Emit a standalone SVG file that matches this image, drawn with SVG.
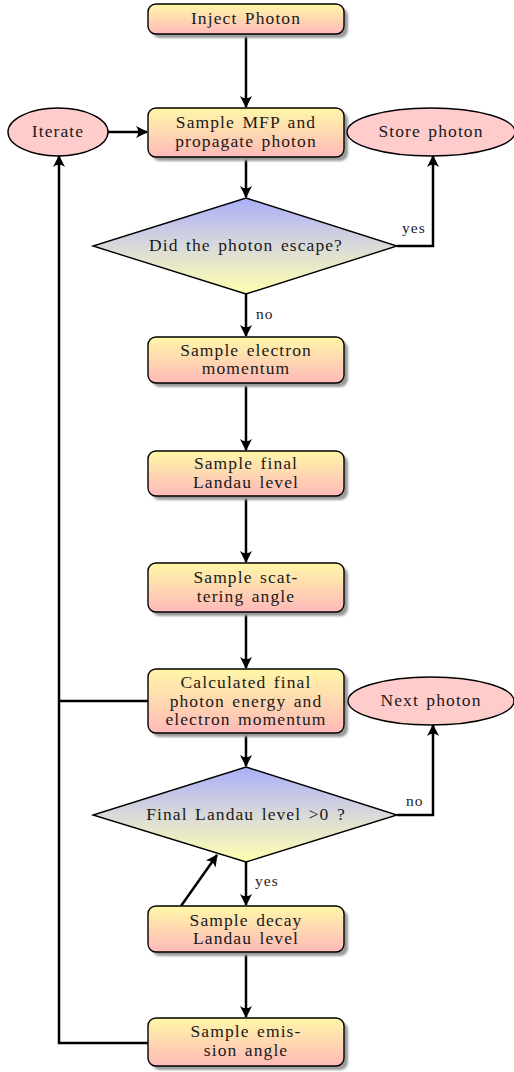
<svg xmlns="http://www.w3.org/2000/svg" width="514" height="1072" viewBox="0 0 514 1072">
<defs>
<linearGradient id="boxg" x1="0" y1="0" x2="0" y2="1">
<stop offset="0" stop-color="#fff7a8"/>
<stop offset="1" stop-color="#ffb9b9"/>
</linearGradient>
<linearGradient id="diag" x1="0" y1="0" x2="0" y2="1">
<stop offset="0" stop-color="#a9aef8"/>
<stop offset="0.5" stop-color="#d9d9d9"/>
<stop offset="1" stop-color="#ffffb0"/>
</linearGradient>
<filter id="blur" x="-10%" y="-20%" width="120%" height="140%">
<feGaussianBlur stdDeviation="1.2"/>
</filter>
<marker id="arr" markerUnits="userSpaceOnUse" markerWidth="16" markerHeight="16" viewBox="-13 -8 16 16" refX="0" refY="0" orient="auto">
<path d="M1,0 L-11,-6 Q-6.5,0 -11,6 z" fill="#000"/>
</marker>
</defs>
<style>
.box{fill:url(#boxg);stroke:#000;stroke-width:1.4}
.sh{fill:#9a9a9a;filter:url(#blur)}
.ell{fill:#ffcccc;stroke:#000;stroke-width:1.4}
.dia{fill:url(#diag);stroke:#000;stroke-width:1.4}
.t{font-family:"Liberation Serif","Times New Roman",serif;font-size:17.5px;letter-spacing:1.1px;word-spacing:2px;text-anchor:middle;fill:#1a1a1a}
.lb{font-family:"Liberation Serif","Times New Roman",serif;font-size:15.5px;letter-spacing:1.1px;fill:#1a1a1a}
.c{fill:none;stroke:#000;stroke-width:2.5}
.a{marker-end:url(#arr)}
</style>

<g id="connectors">
<path class="c a" d="M246,34 V107"/>
<path class="c a" d="M108,132 H147"/>
<path class="c a" d="M246,157 V197"/>
<path class="c a" d="M397,246 H433 V156"/>
<path class="c a" d="M246,294 V336"/>
<path class="c a" d="M246,383 V450"/>
<path class="c a" d="M246,496 V562"/>
<path class="c a" d="M246,612 V668"/>
<path class="c a" d="M246,733 V766"/>
<path class="c a" d="M397,815 H433 V725"/>
<path class="c a" d="M246,862 V905"/>
<path class="c a" d="M181,906 L217,855"/>
<path class="c a" d="M246,952 V1017"/>
<path class="c a" d="M148,1043 H59 V156"/>
<path class="c" d="M148,701 H59"/>
</g>

<g id="inject">
<rect class="sh" x="152" y="8" width="196" height="30" rx="8"/>
<rect class="box" x="148" y="4" width="196" height="30" rx="8"/>
<text class="t" x="246" y="24">Inject Photon</text>
</g>

<g id="iterate">
<ellipse class="ell" cx="58" cy="132" rx="50" ry="24"/>
<text class="t" x="58" y="137">Iterate</text>
</g>

<g id="mfp">
<rect class="sh" x="152" y="112" width="196" height="49" rx="8"/>
<rect class="box" x="148" y="108" width="196" height="49" rx="8"/>
<text class="t" x="246" y="128">Sample MFP and</text>
<text class="t" x="246" y="147">propagate photon</text>
</g>

<g id="store">
<ellipse class="ell" cx="431" cy="132" rx="84" ry="24"/>
<text class="t" x="431" y="137">Store photon</text>
</g>

<g id="escape">
<polygon class="dia" points="246,198 397,246 246,294 93,246"/>
<text class="t" x="246" y="251">Did the photon escape?</text>
</g>

<g id="electron">
<rect class="sh" x="152" y="341" width="196" height="46" rx="8"/>
<rect class="box" x="148" y="337" width="196" height="46" rx="8"/>
<text class="t" x="246" y="356">Sample electron</text>
<text class="t" x="246" y="374">momentum</text>
</g>

<g id="finallevel">
<rect class="sh" x="152" y="455" width="196" height="45" rx="8"/>
<rect class="box" x="148" y="451" width="196" height="45" rx="8"/>
<text class="t" x="246" y="469">Sample final</text>
<text class="t" x="246" y="488">Landau level</text>
</g>

<g id="scatter">
<rect class="sh" x="152" y="567" width="196" height="49" rx="8"/>
<rect class="box" x="148" y="563" width="196" height="49" rx="8"/>
<text class="t" x="246" y="583">Sample scat-</text>
<text class="t" x="246" y="602">tering angle</text>
</g>

<g id="calc">
<rect class="sh" x="152" y="673" width="196" height="64" rx="8"/>
<rect class="box" x="148" y="669" width="196" height="64" rx="8"/>
<text class="t" x="246" y="688">Calculated final</text>
<text class="t" x="246" y="707">photon energy and</text>
<text class="t" x="246" y="725">electron momentum</text>
</g>

<g id="next">
<ellipse class="ell" cx="431" cy="701" rx="83" ry="24"/>
<text class="t" x="431" y="706">Next photon</text>
</g>

<g id="levelcheck">
<polygon class="dia" points="246,767 397,815 246,862 93,815"/>
<text class="t" x="246" y="820">Final Landau level &gt;0 ?</text>
</g>

<g id="decay">
<rect class="sh" x="152" y="910" width="196" height="46" rx="8"/>
<rect class="box" x="148" y="906" width="196" height="46" rx="8"/>
<text class="t" x="246" y="926">Sample decay</text>
<text class="t" x="246" y="944">Landau level</text>
</g>

<g id="emission">
<rect class="sh" x="152" y="1022" width="196" height="48" rx="8"/>
<rect class="box" x="148" y="1018" width="196" height="48" rx="8"/>
<text class="t" x="246" y="1037">Sample emis-</text>
<text class="t" x="246" y="1056">sion angle</text>
</g>

<g id="labels">
<text class="lb" x="402" y="233">yes</text>
<text class="lb" x="256" y="319">no</text>
<text class="lb" x="406" y="806">no</text>
<text class="lb" x="255" y="886">yes</text>
</g>
</svg>
